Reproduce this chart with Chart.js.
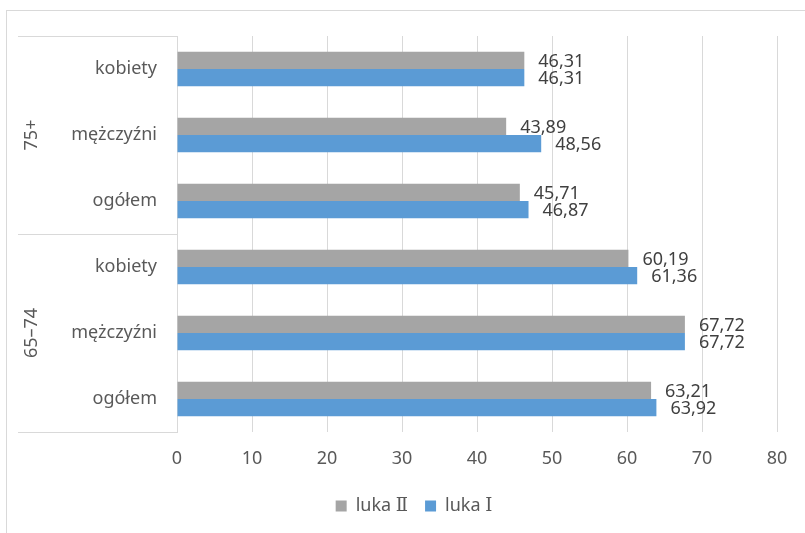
<!DOCTYPE html>
<html>
<head>
<meta charset="utf-8">
<script src="https://cdn.jsdelivr.net/npm/chart.js@4/dist/chart.umd.min.js"></script>
<style>
html,body{margin:0;padding:0;background:#fff;}
#wrap{width:805px;height:533px;position:relative;}
</style>
</head>
<body>
<div id="wrap"><canvas id="c" width="805" height="533"></canvas></div>
<script>
const categories = ['kobiety', 'mężczyźni', 'ogółem', 'kobiety', 'mężczyźni', 'ogółem'];
const groups = ['75+', '65–74'];
const groupSizes = [3, 3];
const seriesNames = ['luka Ⅱ', 'luka Ⅰ'];
const lukaII = [46.31, 43.89, 45.71, 60.19, 67.72, 63.21];
const lukaI = [46.31, 48.56, 46.87, 61.36, 67.72, 63.92];
const xTicks = [0, 10, 20, 30, 40, 50, 60, 70, 80];

const FONT = '"Noto Sans", "Open Sans", sans-serif';
const LEGEND_FONT = '"Noto Sans", "DejaVu Serif", "Liberation Serif", serif';
const GRID = '#D9D9D9';

const fmt = v => v.toFixed(2).replace('.', ',');

const framePlugin = {
  id: 'frame',
  beforeDraw(chart) {
    const ctx = chart.ctx;
    ctx.save();
    ctx.fillStyle = '#fff';
    ctx.fillRect(0, 0, chart.width, chart.height);
    ctx.strokeStyle = GRID;
    ctx.lineWidth = 1;
    ctx.strokeRect(6.5, 10.5, chart.width + 10, chart.height + 10);
    ctx.restore();
  },
  afterDraw(chart) {
    const ctx = chart.ctx;
    const area = chart.chartArea;
    ctx.save();
    ctx.strokeStyle = GRID;
    ctx.lineWidth = 1;
    let idx = 0;
    const bounds = [area.top];
    groupSizes.forEach(n => { idx += n; bounds.push(area.top + (area.bottom - area.top) * idx / categories.length); });
    bounds.forEach(b => {
      const yy = Math.round(b) + 0.5;
      ctx.beginPath(); ctx.moveTo(18, yy); ctx.lineTo(area.left, yy); ctx.stroke();
    });
    ctx.fillStyle = '#595959';
    ctx.font = '18px ' + FONT;
    ctx.textAlign = 'center';
    ctx.textBaseline = 'middle';
    groups.forEach((g, i) => {
      const cy = (bounds[i] + bounds[i + 1]) / 2;
      ctx.save();
      ctx.translate(32, cy);
      ctx.rotate(-Math.PI / 2);
      ctx.fillText(g, 0, 0);
      ctx.restore();
    });
    ctx.fillStyle = '#404040';
    ctx.textAlign = 'left';
    chart.data.datasets.forEach((ds, di) => {
      const meta = chart.getDatasetMeta(di);
      meta.data.forEach((bar, i) => {
        ctx.fillText(fmt(ds.data[i]), bar.x + 14, bar.y + 1);
      });
    });
    ctx.restore();
  }
};

new Chart(document.getElementById('c'), {
  type: 'bar',
  data: {
    labels: categories,
    datasets: [
      { label: seriesNames[0], data: lukaII, backgroundColor: '#A5A5A5', borderWidth: 0 },
      { label: seriesNames[1], data: lukaI, backgroundColor: '#5B9BD5', borderWidth: 0 }
    ]
  },
  options: {
    indexAxis: 'y',
    responsive: false,
    animation: false,
    devicePixelRatio: 1,
    categoryPercentage: 0.52,
    barPercentage: 1,
    layout: { padding: { left: 51, right: 28, top: 36, bottom: 8 } },
    plugins: {
      legend: {
        position: 'bottom',
        labels: {
          boxWidth: 11, boxHeight: 11, padding: 17,
          color: '#595959',
          font: { family: LEGEND_FONT, size: 18 }
        }
      },
      tooltip: { enabled: false }
    },
    scales: {
      x: {
        min: 0, max: 80,
        afterBuildTicks: s => { s.ticks = xTicks.map(v => ({ value: v })); },
        ticks: { color: '#595959', font: { family: FONT, size: 18 }, padding: 16 },
        grid: { color: GRID, drawTicks: false },
        border: { display: false },
        afterFit: s => { s.height = 48; }
      },
      y: {
        ticks: { color: '#595959', font: { family: FONT, size: 18 }, padding: 20 },
        grid: { display: false, drawTicks: false },
        border: { display: true, color: GRID },
        afterFit: s => { s.width = 126; }
      }
    }
  },
  plugins: [framePlugin]
});
</script>
</body>
</html>
